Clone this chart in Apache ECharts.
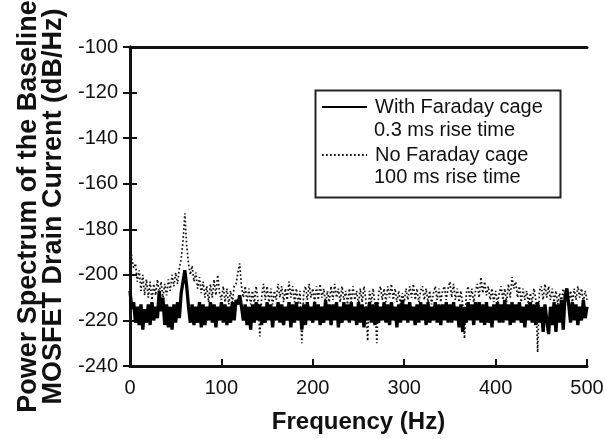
<!DOCTYPE html>
<html>
<head>
<meta charset="utf-8">
<script src="https://cdn.jsdelivr.net/npm/echarts@6/dist/echarts.min.js"></script>
<style>html,body{margin:0;padding:0;background:#fff;}#chart{width:605px;height:439px;}</style>
</head>
<body>
<div id="chart"></div>
<script>
// Frequency samples (Hz), every 2 Hz from 0 to 500
const frequencies = [];
for (let f = 0; f <= 500; f += 2) frequencies.push(f);

const xTicks = [0, 100, 200, 300, 400, 500];
const yTicks = [-240, -220, -200, -180, -160, -140, -120, -100];

// With Faraday cage, 0.3 ms rise time (dB/Hz)
const withCage = [
  -207, -215, -212, -221, -214, -222, -213, -224, -215, -221,
  -213, -222, -212, -220, -214, -219, -207, -216, -210, -222,
  -213, -223, -214, -224, -213, -221, -212, -219, -208, -203,
  -198, -205, -214, -221, -213, -222, -214, -221, -212, -223,
  -213, -222, -214, -220, -212, -221, -213, -223, -214, -220,
  -212, -221, -213, -222, -214, -221, -212, -220, -211, -213,
  -209, -214, -220, -213, -222, -214, -224, -213, -221, -212,
  -220, -213, -222, -214, -221, -212, -220, -213, -223, -214,
  -220, -212, -221, -213, -222, -214, -220, -212, -223, -213,
  -221, -212, -220, -214, -224, -213, -222, -212, -220, -214,
  -221, -212, -220, -213, -222, -214, -221, -211, -220, -213,
  -222, -213, -220, -212, -223, -214, -221, -212, -220, -213,
  -221, -212, -220, -214, -222, -212, -221, -213, -223, -214,
  -220, -212, -221, -213, -222, -212, -221, -214, -220, -212,
  -221, -213, -222, -212, -220, -214, -223, -213, -221, -211,
  -220, -213, -221, -212, -220, -214, -222, -213, -221, -212,
  -220, -213, -222, -212, -221, -214, -220, -212, -221, -213,
  -222, -213, -220, -212, -221, -213, -221, -212, -220, -214,
  -223, -213, -225, -214, -221, -212, -220, -213, -222, -212,
  -220, -212, -221, -213, -222, -212, -221, -214, -223, -213,
  -220, -212, -221, -213, -221, -211, -220, -213, -222, -212,
  -221, -213, -220, -212, -221, -214, -223, -213, -220, -212,
  -221, -213, -222, -212, -221, -214, -225, -213, -220, -226,
  -214, -222, -212, -225, -213, -221, -211, -224, -209, -206,
  -213, -221, -212, -220, -213, -222, -214, -220, -211, -219,
  -214
];

// No Faraday cage, 100 ms rise time (dB/Hz)
const noCage = [
  -184, -193, -197, -195, -203, -198, -207, -200, -209, -202,
  -210, -203, -211, -204, -209, -202, -208, -203, -210, -204,
  -209, -202, -207, -200, -205, -199, -204, -197, -193, -185,
  -173, -187, -195, -200, -196, -203, -199, -206, -201, -208,
  -203, -210, -205, -212, -204, -210, -202, -209, -200, -208,
  -211, -205, -212, -206, -213, -207, -212, -205, -204, -199,
  -195, -205, -210, -205, -212, -206, -213, -207, -212, -205,
  -211, -227, -210, -204, -211, -205, -212, -206, -213, -207,
  -211, -204, -210, -205, -212, -206, -211, -203, -210, -205,
  -212, -206, -213, -207, -230, -208, -205, -211, -204, -210,
  -206, -212, -205, -211, -204, -210, -206, -213, -207, -212,
  -205, -211, -204, -210, -206, -212, -205, -211, -207, -213,
  -206, -212, -205, -211, -207, -213, -206, -212, -205, -211,
  -229, -207, -212, -206, -213, -230, -208, -205, -211, -206,
  -212, -205, -210, -204, -211, -206, -212, -207, -213, -208,
  -212, -206, -211, -205, -210, -204, -211, -206, -212, -207,
  -205, -211, -206, -212, -207, -213, -208, -205, -211, -206,
  -212, -207, -205, -211, -206, -203, -210, -204, -211, -206,
  -212, -207, -213, -228, -208, -205, -211, -206, -212, -207,
  -204, -210, -201, -208, -203, -209, -205, -211, -206, -212,
  -207, -213, -208, -205, -211, -206, -212, -204, -210, -201,
  -206, -203, -210, -205, -212, -206, -211, -207, -213, -208,
  -212, -206, -211, -234, -207, -205, -211, -204, -210, -205,
  -211, -206, -212, -207, -213, -208, -212, -206, -211, -207,
  -213, -207, -212, -206, -211, -205, -210, -206, -212, -207,
  -211
];

const seriesNames = ['With Faraday cage', 'No Faraday cage'];
const seriesSubtitles = ['0.3 ms rise time', '100 ms rise time'];

const pair = (ys) => frequencies.map((f, i) => [f, ys[i]]);

const FONT = 'Liberation Sans, Arial, sans-serif';
const chart = echarts.init(document.getElementById('chart'), null, {renderer: 'canvas'});

const option = {
  animation: false,
  backgroundColor: '#fff',
  grid: {left: 130, right: 18, top: 47, bottom: 73, containLabel: false, outerBoundsMode: 'none'},
  xAxis: [{
    type: 'value', min: xTicks[0], max: xTicks[xTicks.length - 1], interval: 100,
    name: 'Frequency (Hz)', nameLocation: 'middle', nameGap: 44,
    nameTextStyle: {fontFamily: FONT, fontSize: 24, fontWeight: 'bold', color: '#111'},
    axisLine: {lineStyle: {color: '#111', width: 3}},
    axisTick: {inside: true, length: 7, lineStyle: {color: '#111', width: 2}},
    axisLabel: {fontFamily: FONT, fontSize: 20, color: '#111', margin: 12},
    splitLine: {show: false}
  }, {
    type: 'value', position: 'top', min: xTicks[0], max: xTicks[xTicks.length - 1], interval: 100,
    axisLine: {lineStyle: {color: '#111', width: 3}},
    axisTick: {show: false}, axisLabel: {show: false}, splitLine: {show: false}
  }],
  yAxis: [{
    type: 'value', min: yTicks[0], max: yTicks[yTicks.length - 1], interval: 20,
    name: 'Power Spectrum of the Baseline\nMOSFET Drain Current (dB/Hz)',
    nameLocation: 'middle', nameGap: 64, nameRotate: 90,
    nameTextStyle: {fontFamily: FONT, fontSize: 27, fontWeight: 'bold', color: '#111', lineHeight: 25},
    axisLine: {lineStyle: {color: '#111', width: 3}},
    axisTick: {inside: true, length: 7, lineStyle: {color: '#111', width: 2}},
    axisLabel: {fontFamily: FONT, fontSize: 20, color: '#111', margin: 12},
    splitLine: {show: false}
  }, {
    type: 'value', position: 'right', min: yTicks[0], max: yTicks[yTicks.length - 1], interval: 20,
    axisLine: {lineStyle: {color: '#111', width: 3}},
    axisTick: {inside: true, length: 7, lineStyle: {color: '#111', width: 2}},
    axisLabel: {show: false}, splitLine: {show: false}
  }],
  legend: {
    orient: 'vertical', left: 313, top: 88,
    padding: [9, 10, 30, 8], itemGap: 28, itemWidth: 45, itemHeight: 14,
    data: seriesNames,
    itemStyle: {opacity: 0},
    textStyle: {fontFamily: FONT, fontSize: 20, color: '#111', lineHeight: 20, padding: [0, 0, 0, 3]},
    selectedMode: false
  },
  graphic: [
    {type: 'rect', left: 313, top: 88, shape: {width: 245, height: 107},
     style: {fill: 'none', stroke: '#222', lineWidth: 2}, z: 1},
    {type: 'text', left: 374, top: 120, style: {text: seriesSubtitles[0], font: '20px ' + FONT, fill: '#111'}, z: 5},
    {type: 'text', left: 374, top: 167, style: {text: seriesSubtitles[1], font: '20px ' + FONT, fill: '#111'}, z: 5}
  ],
  series: [
    {
      name: seriesNames[1], type: 'line', data: pair(noCage), showSymbol: false, symbol: 'none',
      itemStyle: {color: '#111'},
      lineStyle: {color: '#111', width: 1.7, type: [1.7, 2.3]}, z: 2
    },
    {
      name: seriesNames[0], type: 'line', data: pair(withCage), showSymbol: false, symbol: 'none',
      itemStyle: {color: '#000'},
      lineStyle: {color: '#000', width: 3.3, type: 'solid'}, z: 3
    }
  ]
};
chart.setOption(option);
</script>
</body>
</html>
